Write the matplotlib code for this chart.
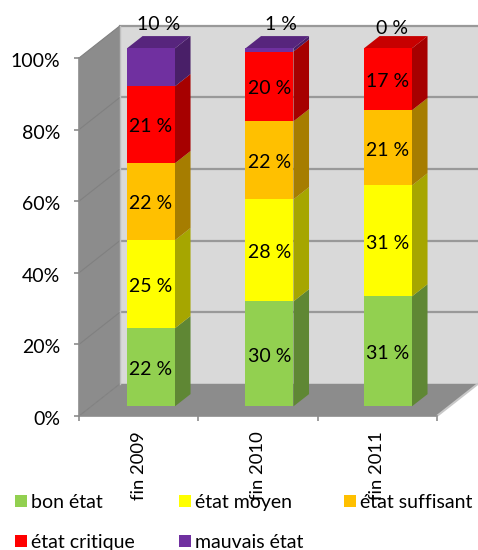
import numpy as np
import matplotlib
matplotlib.use('Agg')
import matplotlib.pyplot as plt
import matplotlib.transforms as mtrans
from matplotlib.patches import Polygon, Rectangle
from matplotlib.colors import to_rgb

plt.rcParams['font.family'] = ['Lato', 'DejaVu Sans']

years = ['fin 2009', 'fin 2010', 'fin 2011']
names = ['bon état', 'état moyen', 'état suffisant', 'état critique', 'mauvais état']
colors = ['#92D050', '#FFFF00', '#FFC000', '#FF0000', '#7030A0']

# segment heights
bon = [21.8, 29.3, 30.7]
moyen = [24.6, 28.5, 31.0]
suffisant = [21.5, 21.8, 21.0]
critique = [21.5, 19.5, 17.3]
mauvais = [10.6, 0.9, 0.0]

# printed labels
lab_bon = [22, 30, 31]
lab_moyen = [25, 28, 31]
lab_suffisant = [22, 22, 21]
lab_critique = [21, 20, 17]
lab_mauvais = [10, 1, 0]

series = [bon, moyen, suffisant, critique, mauvais]
labels = [lab_bon, lab_moyen, lab_suffisant, lab_critique, lab_mauvais]

W, H = 478, 550
FS = 14
TXT_DROP = 0.6  # labels sit a bit lower than the centre of the segment
fig = plt.figure(figsize=(W/100, H/100), dpi=100)
ax = fig.add_axes([79/W, (H-416)/H, (437-79)/W, (416-58)/H])
ax.set_xlim(-0.5, 2.5)
ax.set_ylim(0, 100)

# fake 3d depth, in data units
DX = 41/119.33
DY = 9.0
D_FRONT = 0.30
D_BACK = 0.68
BAR_W = 0.402
BAR_STEP = 0.993
GREY = '#8C8C8C'


def proj(x, y, d):
    return (x + d*DX, y + d*DY)


def shade(c, f):
    return tuple(v*f for v in to_rgb(c))


def poly(pts, color, z, ec='none', lw=0):
    ax.add_patch(Polygon(pts, closed=True, fc=color, ec=ec, lw=lw, zorder=z, clip_on=False))


# walls and floor
poly([proj(-0.5, 0, 1), proj(2.5, 0, 1), proj(2.5, 100, 1), proj(-0.5, 100, 1)], '#D9D9D9', 1)
poly([proj(-0.5, 0, 0), proj(-0.5, 0, 1), proj(-0.5, 100, 1), proj(-0.5, 100, 0)], GREY, 1)
poly([proj(-0.5, 0, 0), proj(-0.5, 0, 1), proj(2.5, 0, 1), proj(2.5, 0, 0)], GREY, 1)

for v in [0, 20, 40, 60, 80, 100]:
    xs, ys = zip(proj(-0.5, v, 1), proj(2.5, v, 1))
    if v > 0:
        ax.plot(xs, ys, color='#999999', lw=1.6, zorder=2, clip_on=False)
    xs, ys = zip(proj(-0.5, v, 0), proj(-0.5, v, 1))
    ax.plot(xs, ys, color='#808080', lw=0.8, zorder=2, clip_on=False)

xs, ys = zip(proj(-0.5, 0, 1), proj(-0.5, 100, 1))
ax.plot(xs, ys, color='#BFBFBF', lw=1, zorder=2, clip_on=False)
xs, ys = zip(proj(2.5, 0, 0), proj(2.5, 0, 1))
ax.plot(xs, ys, color='#C8C8C8', lw=1.5, zorder=2, clip_on=False)

# bars
x = np.arange(len(years))
base = proj(0, 0, D_FRONT)[1]
xc = x*BAR_STEP + D_FRONT*DX
bottom = np.full(len(years), base, dtype=float)
for vals, col, lab in zip(series, colors, labels):
    vals = np.array(vals)
    ax.bar(xc, vals, BAR_W, bottom=bottom, color=col, zorder=4, clip_on=False)
    for i in range(len(years)):
        if vals[i] <= 0:
            continue
        r = xc[i] + BAR_W/2
        y0, y1 = bottom[i], bottom[i] + vals[i]
        dd = D_BACK - D_FRONT
        poly([(r, y0), (r, y1), (r + dd*DX, y1 + dd*DY), (r + dd*DX, y0 + dd*DY)],
             shade(col, 0.65), 3)
    bottom = bottom + vals
    if col != colors[-1]:
        for i in range(len(years)):
            ax.text(xc[i], bottom[i] - vals[i]/2 - TXT_DROP, '%d %%' % lab[i], ha='center', va='center',
                    fontsize=FS, color='black', zorder=6, clip_on=False)

# top faces, colour of last non empty segment
for i in range(len(years)):
    top_col = [c for c, s in zip(colors, series) if s[i] > 0][-1]
    l = xc[i] - BAR_W/2
    r = xc[i] + BAR_W/2
    dd = D_BACK - D_FRONT
    t = bottom[i]
    poly([(l, t), (r, t), (r + dd*DX, t + dd*DY), (l + dd*DX, t + dd*DY)], shade(top_col, 0.78), 3)

# the mauvais labels sit above the bars
top_dx = [0.06, 0.10, 0.03]
top_y = [109.3, 109.3, 108.2]
for i in range(len(years)):
    ax.text(xc[i] + top_dx[i], top_y[i], '%d %%' % lab_mauvais[i], ha='center', va='center',
            fontsize=FS, color='black', zorder=6, clip_on=False)

# axes
for s in ['top', 'right']:
    ax.spines[s].set_visible(False)
for s in ['left', 'bottom']:
    ax.spines[s].set_color(GREY)
    ax.spines[s].set_linewidth(1.2)
    ax.spines[s].set_zorder(3)
ax.patch.set_visible(False)
ax.set_yticks([0, 20, 40, 60, 80, 100])
ax.set_yticklabels(['0%', '20%', '40%', '60%', '80%', '100%'], fontsize=FS)
ax.tick_params(axis='y', length=3.6, color=GREY, width=1.2, pad=10)
shift = mtrans.ScaledTranslation(0, -2/100, fig.dpi_scale_trans)
for t in ax.get_yticklabels():
    t.set_transform(t.get_transform() + shift)
ax.set_xticks([-0.5, 0.5, 1.5, 2.5], minor=True)
ax.tick_params(axis='x', which='minor', length=3.6, color=GREY, width=1.2)
ax.set_xticks(x)
ax.set_xticklabels(years, rotation=90, fontsize=13.3, va='top', ha='center')
ax.tick_params(axis='x', which='major', length=0, pad=11)

# legend, placed by hand
leg_x = [15, 179, 344, 15, 179]
leg_y = [501, 501, 501, 541, 541]
for nm, col, lx, ly in zip(names, colors, leg_x, leg_y):
    fig.add_artist(Rectangle((lx/W, (H-ly-6)/H), 12/W, 12/H, transform=fig.transFigure,
                             fc=col, ec='none'))
    fig.text((lx+16)/W, (H-ly-1.5)/H, nm, ha='left', va='center', fontsize=FS, color='black')

fig.savefig('out.png', dpi=100)
